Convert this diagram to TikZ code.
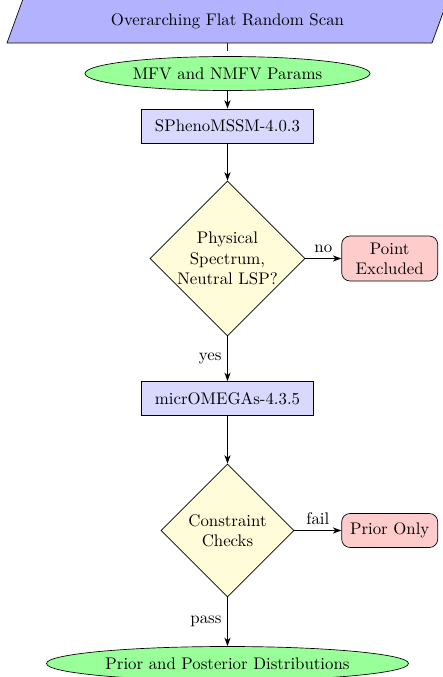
\documentclass[tikz,border=0pt]{standalone}
\usetikzlibrary{shapes.geometric,arrows.meta}
\def\pxu{0.595pt}
\begin{document}
\begin{tikzpicture}[x=\pxu,y=-\pxu,
  procbox/.style={rectangle, draw=black, fill=blue!15, minimum width=172*\pxu, minimum height=34*\pxu, inner sep=0pt},
  termell/.style={ellipse, draw=black, fill=green!40, minimum height=34*\pxu, inner sep=0pt},
  decide/.style={diamond, draw=black, fill=yellow!15, aspect=1, inner sep=0pt, align=center},
  endbox/.style={rectangle, rounded corners=5pt, draw=black, fill=red!20, minimum width=96*\pxu, align=center},
  flow/.style={-{Stealth[length=5pt,width=3.6pt,inset=1.4pt]}, semithick}]
\useasboundingbox (0,0) rectangle (443,677);
\filldraw[fill=blue!30, draw=black] (7,43) -- (432,43) -- (448,-1) -- (23,-1) -- cycle;
\node[minimum height=44*\pxu, inner sep=0pt] (scan) at (227.5,21) {Overarching Flat Random Scan};
\node[termell, minimum width=285*\pxu] (mfv) at (227.5,73.5) {MFV and NMFV Params};
\node[procbox] (spheno) at (227.5,126) {SPhenoMSSM-4.0.3};
\node[decide, minimum width=155*\pxu, minimum height=155*\pxu] (phys) at (227.5,258.5) {Physical\\Spectrum,\\Neutral LSP?};
\node[endbox, minimum height=45*\pxu] (excl) at (389.7,258.5) {Point\\Excluded};
\node[procbox] (micro) at (227.5,398.5) {micrOMEGAs-4.3.5};
\node[decide, minimum width=133*\pxu, minimum height=133*\pxu] (cons) at (227.5,530.5) {Constraint\\Checks};
\node[endbox, minimum height=34*\pxu] (prior) at (389.7,530.5) {Prior Only};
\node[termell, minimum width=362*\pxu] (post) at (227.5,663.5) {Prior and Posterior Distributions};
\draw[blue, shorten >=3pt] (scan) -- (mfv);
\draw[flow] (mfv) -- (spheno);
\draw[flow] (spheno) -- (phys);
\draw[flow] (phys) -- node[above] {no} (excl);
\draw[flow] (phys) -- node[left] {yes} (micro);
\draw[flow] (micro) -- (cons);
\draw[flow] (cons) -- node[above] {fail} (prior);
\draw[flow] (cons) -- node[left] {pass} (post);
\end{tikzpicture}
\end{document}
